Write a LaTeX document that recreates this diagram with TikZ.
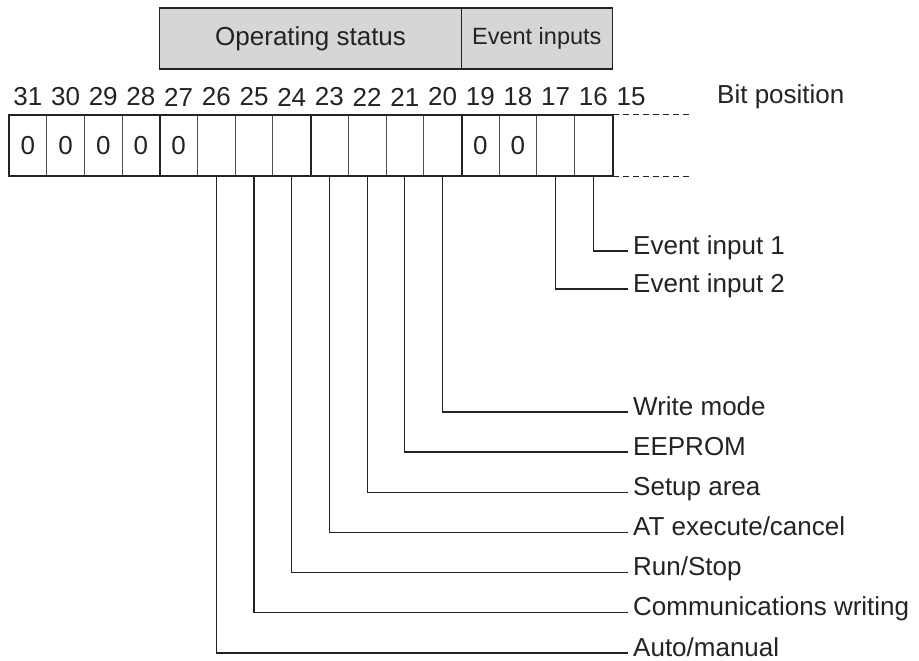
\documentclass[tikz,border=0pt]{standalone}
\usepackage{fontspec}
\setmainfont{Liberation Sans}
\usetikzlibrary{positioning,calc}
\definecolor{boxgray}{RGB}{213,214,216}
\definecolor{ink}{RGB}{35,35,35}
\tikzset{
  txt/.style={font=\fontsize{26}{30}\selectfont,text=ink},
  cell/.style={draw=ink!80,line width=0.9pt,minimum width=37.7pt,minimum height=61pt,inner sep=0pt,txt},
  groupbox/.style={draw=ink,line width=1.3pt,fill=boxgray,minimum height=61pt,inner sep=0pt,txt},
  bitlabel/.style={anchor=west,inner xsep=5pt,text height=18pt,text depth=12pt,txt},
  conn/.style={draw=ink,line width=1.2pt}
}
\begin{document}
\begin{tikzpicture}[x=1pt,y=1pt]
\useasboundingbox (0,0) rectangle (919,-661);
% group boxes
\node[groupbox,minimum width=301.6pt] (opst) at (310.6,-38.5) {Operating status};
\node[groupbox,minimum width=150.8pt,font=\fontsize{23.5}{28}\selectfont] (evin) at (536.8,-38.5) {Event inputs};
% bit numbers
 \foreach \b in {31,...,15}
    \node[txt,inner sep=0pt] (n\b) at ({9+(31-\b)*37.7+18.85},-97) {\b};
\node[txt,anchor=west,inner sep=0pt] (bitpos) at (717,-97) {Bit position};
% cells
 \foreach \b/\v in {31/0,30/0,29/0,28/0,27/0,26/{},25/{},24/{},23/{},22/{},21/{},20/{},19/0,18/0,17/{},16/{}}
    \node[cell] (b\b) at ({9+(31-\b)*37.7+18.85},-145.5) {\v};
\draw[ink,line width=2pt] (b31.north west) rectangle (b16.south east);
\foreach \b in {28,24,20}
    \draw[ink,line width=2pt] (b\b.north east) -- (b\b.south east);
\draw[ink,line width=1.2pt,dash pattern=on 6pt off 4pt] (b16.north east) -- ++(78,0);
\draw[ink,line width=1.2pt,dash pattern=on 6pt off 4pt] (b16.south east) -- ++(78,0);
% labels
\node[bitlabel] (ei1) at (628,-251) {Event input 1};
\node[bitlabel] (ei2) at (628,-289) {Event input 2};
\node[bitlabel] (wm) at (628,-412) {Write mode};
\node[bitlabel] (eep) at (628,-452) {EEPROM};
\node[bitlabel] (setup) at (628,-492.5) {Setup area};
\node[bitlabel] (at) at (628,-532.5) {AT execute/cancel};
\node[bitlabel] (run) at (628,-572.5) {Run/Stop};
\node[bitlabel] (comm) at (628,-612.5) {Communications writing};
\node[bitlabel] (auto) at (628,-653) {Auto/manual};
% connectors
\draw[conn] (b16.south) |- (ei1.west);
\draw[conn] (b17.south) |- (ei2.west);
\draw[conn] (b20.south) |- (wm.west);
\draw[conn] (b21.south) |- (eep.west);
\draw[conn] (b22.south) |- (setup.west);
\draw[conn] (b23.south) |- (at.west);
\draw[conn] (b24.south) |- (run.west);
\draw[conn] (b25.south) |- (comm.west);
\draw[conn] (b26.south) |- (auto.west);
\end{tikzpicture}
\end{document}
